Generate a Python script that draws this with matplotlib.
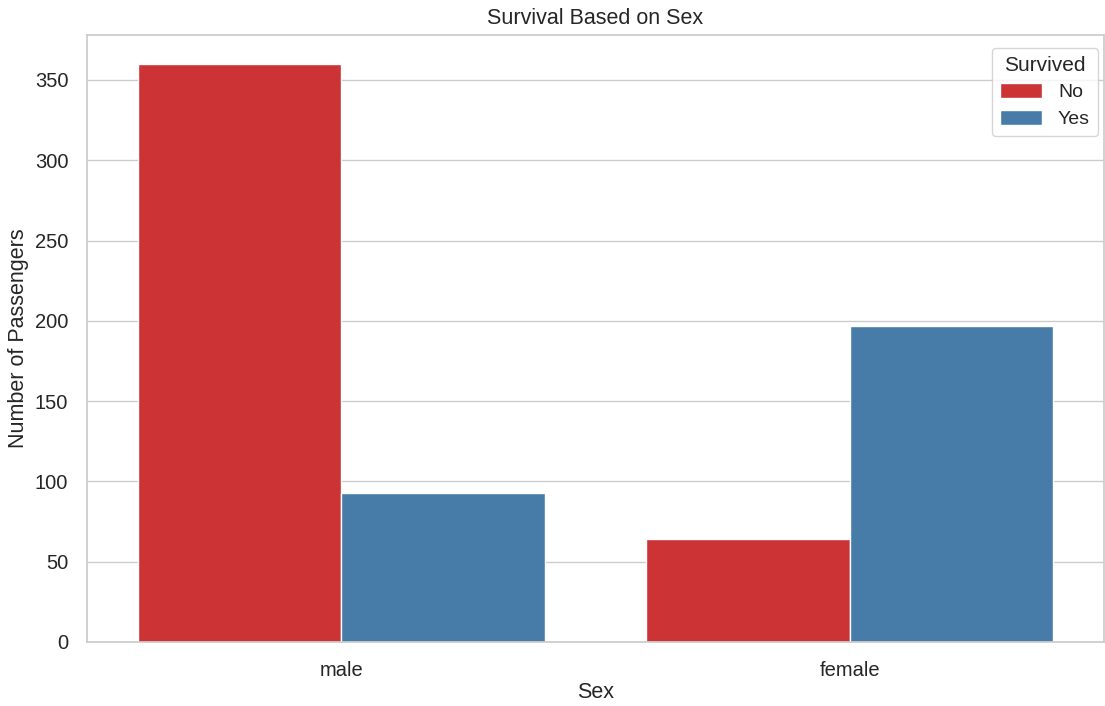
import matplotlib
matplotlib.use("Agg")
import matplotlib.pyplot as plt
import seaborn as sns
import pandas as pd

sexes = ["male", "female"]
survived_labels = ["No", "Yes"]
counts_no = [360, 64]
counts_yes = [93, 197]

sns.set_theme(style="whitegrid")
plt.rcParams['font.family'] = ['Liberation Sans', 'DejaVu Sans']

df = pd.DataFrame({
    "Sex": sexes * 2,
    "Survived": [survived_labels[0]] * 2 + [survived_labels[1]] * 2,
    "Count": counts_no + counts_yes,
})

fig, ax = plt.subplots(figsize=(11.05, 7.06), dpi=100)
sns.barplot(data=df, x="Sex", y="Count", hue="Survived", palette="Set1", ax=ax,
            order=sexes, hue_order=survived_labels)
ax.set_title("Survival Based on Sex", fontsize=15.5, pad=8)
ax.set_xlabel("Sex", fontsize=15.5, labelpad=2)
ax.set_ylabel("Number of Passengers", fontsize=15.5, labelpad=4)
ax.tick_params(axis="both", labelsize=14.5, pad=7.5)
ax.legend(title="Survived", fontsize=14, title_fontsize=15,
          loc="upper right", bbox_to_anchor=(0.994, 0.979), borderaxespad=0,
          handlelength=2.2, handleheight=0.8, labelspacing=0.45)
fig.subplots_adjust(left=0.0787, right=0.999, top=0.9504, bottom=0.0907)
fig.savefig("out.png", dpi=100)
